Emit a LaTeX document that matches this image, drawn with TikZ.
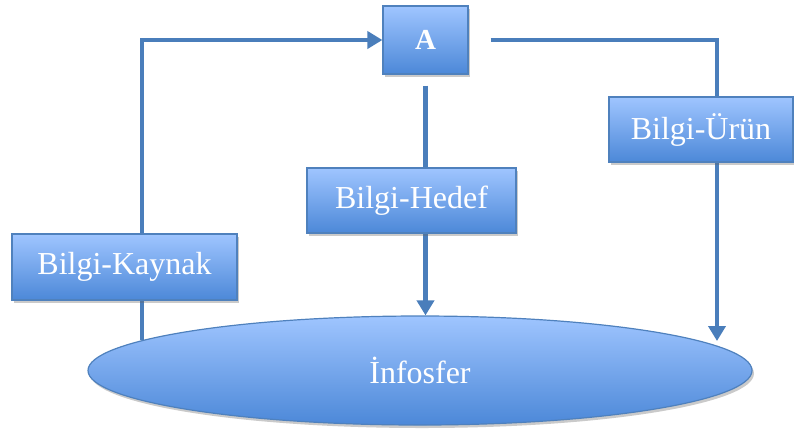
\documentclass[tikz,border=0pt]{standalone}
\usepackage{fontspec}
\setmainfont{Liberation Serif}
\usetikzlibrary{shapes.geometric,shadows,arrows.meta}
\definecolor{edgeblue}{HTML}{4F81BD}
\definecolor{lineblue}{HTML}{4A7EBB}
\definecolor{fillTop}{HTML}{9FC5FF}
\definecolor{fillBot}{HTML}{4C88D8}
\tikzset{
  boxfill/.style={draw=edgeblue, line width=1.2pt, top color=fillTop, bottom color=fillBot,
    drop shadow={shadow xshift=2pt, shadow yshift=-3pt, opacity=0.35, fill=black!60},
    text=white, inner sep=0pt},
  labelbox/.style={boxfill, rectangle, font=\fontsize{32}{36}\selectfont},
  flow/.style={draw=lineblue, line width=4.5pt},
  tip/.style={-{Triangle[width=17pt,length=15pt]}},
}
\begin{document}
\begin{tikzpicture}[x=1pt,y=-1pt]
\useasboundingbox (0,0) rectangle (794,432);

% coordinates where the outer lines meet the sphere
\coordinate (kaynakFoot) at (142,340);
\coordinate (urunFoot) at (717,341);

% the sphere
\node[boxfill, ellipse, minimum width=664pt, minimum height=109pt,
      font=\fontsize{32}{36}\selectfont] (info) at (420,370.5) {İnfosfer};

% the actor
\node[boxfill, rectangle, minimum width=85pt, minimum height=68pt,
      font=\fontsize{29}{34}\selectfont\bfseries] (A) at (425.5,40) {A};

% connectors
\draw[flow, tip] (kaynakFoot) |- (A.west);
\draw[flow, tip, shorten <=22pt] (A.east) -| (urunFoot);
\draw[flow, tip, shorten <=11pt] (A.south) -- (A.south |- info.north);

% labels on the connectors
\node[labelbox, minimum width=225pt, minimum height=66pt] (kaynak) at (124.5,267) {Bilgi-Kaynak};
\node[labelbox, minimum width=209pt, minimum height=65pt] (hedef) at (411.5,200.5) {Bilgi-Hedef};
\node[labelbox, minimum width=184pt, minimum height=65pt] (urun) at (701,129.5) {Bilgi-Ürün};
\end{tikzpicture}
\end{document}
